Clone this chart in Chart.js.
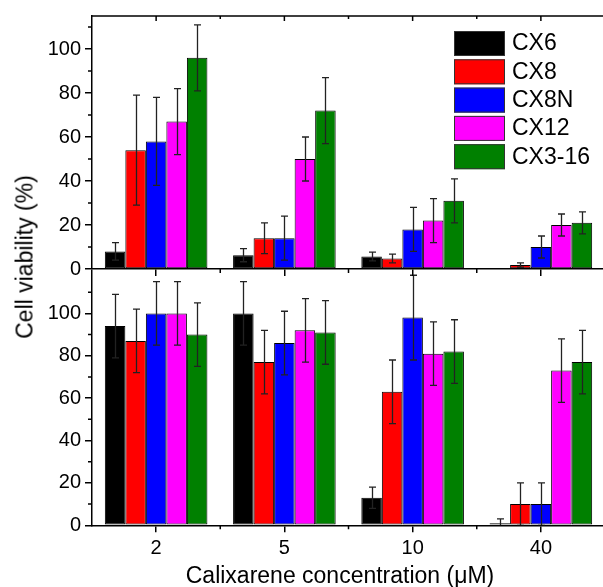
<!DOCTYPE html>
<html>
<head>
<meta charset="utf-8">
<script src="https://cdn.jsdelivr.net/npm/chart.js@4.4.1/dist/chart.umd.min.js"></script>
<style>
  html, body { margin: 0; padding: 0; background: #fff; }
  #wrap { position: relative; width: 603px; height: 587px; overflow: hidden; }
  #wrap canvas { position: absolute; left: 0; }
  #cvTop { top: 0; z-index: 2; }
  #cvBot { top: 255px; z-index: 1; }
  .atitle {
    position: absolute; z-index: 3;
    font: 23px "Liberation Sans", Arial, sans-serif; color: #000; white-space: nowrap;
  }
  #ytitle { left: 25px; top: 257px; transform: translate(-50%, -50%) rotate(-90deg); }
  #xtitle { left: 340px; top: 575px; transform: translate(-50%, -50%); }
</style>
</head>
<body>
<div id="wrap">
  <canvas id="cvBot" width="620" height="345"></canvas>
  <canvas id="cvTop" width="620" height="300"></canvas>
  <div id="ytitle" class="atitle">Cell viability (%)</div>
  <div id="xtitle" class="atitle">Calixarene concentration (&mu;M)</div>
</div>
<script>
// x categories (calixarene concentration, uM) and series
var categories = ['2', '5', '10', '40'];
var seriesNames = ['CX6', 'CX8', 'CX8N', 'CX12', 'CX3-16'];

// upper panel: mean values and error (+/-)
var cx6Top = [8, 6.3, 5.7, 0];
var cx8Top = [54, 14, 4.8, 1.8];
var cx8nTop = [58, 14, 18, 10];
var cx12Top = [67, 50, 22, 20];
var cx316Top = [96, 72, 31, 21];
var cx6TopErr = [4, 3, 2, 0];
var cx8TopErr = [25, 7, 2, 1];
var cx8nTopErr = [20, 10, 10, 5];
var cx12TopErr = [15, 10, 10, 5];
var cx316TopErr = [15, 15, 10, 5];

// lower panel
var cx6Bot = [94, 100, 13, 1];
var cx8Bot = [87, 77, 63, 10];
var cx8nBot = [100, 86, 98, 10];
var cx12Bot = [100, 92, 81, 73];
var cx316Bot = [90, 91, 82, 77];
var cx6BotErr = [15, 15, 5, 2];
var cx8BotErr = [15, 15, 15, 10];
var cx8nBotErr = [15, 15, 20, 10];
var cx12BotErr = [15, 15, 15, 15];
var cx316BotErr = [15, 15, 15, 15];

// y tick labels
var yTicksTop = [0, 20, 40, 60, 80, 100];
var yTicksBot = [0, 20, 40, 60, 80, 100];

var FONT = '"Liberation Sans", Arial, sans-serif';
var COLORS = ['#000000', '#ff0000', '#0000ff', '#ff00ff', '#008000'];
Chart.defaults.font.family = FONT;
Chart.defaults.color = '#000';

function makeSets(values, errors) {
  return values.map(function(v, i) {
    return {
      label: seriesNames[i],
      data: v,
      errors: errors[i],
      backgroundColor: COLORS[i],
      borderColor: '#000',
      borderWidth: 1,
      borderSkipped: false,
      barPercentage: 1,
      categoryPercentage: 0.8
    };
  });
}

/* error bars, drawn through the value scale */
var errorBars = {
  id: 'errorBars',
  afterDatasetsDraw: function(chart) {
    var ctx = chart.ctx, y = chart.scales.y, a = chart.chartArea;
    ctx.save();
    ctx.beginPath();
    ctx.rect(a.left, a.top - 1, a.width, a.height + 1);
    ctx.clip();
    ctx.strokeStyle = '#222';
    ctx.lineWidth = 1.3;
    chart.data.datasets.forEach(function(ds, i) {
      chart.getDatasetMeta(i).data.forEach(function(bar, j) {
        var e = ds.errors[j];
        if (!e) return;
        var v = ds.data[j];
        var yt = y.getPixelForValue(v + e), yb = y.getPixelForValue(v - e);
        var x = Math.round(bar.x) + 0.5;
        ctx.beginPath();
        ctx.moveTo(x, yt); ctx.lineTo(x, yb);
        ctx.moveTo(x - 3.5, yt); ctx.lineTo(x + 3.5, yt);
        ctx.moveTo(x - 3.5, yb); ctx.lineTo(x + 3.5, yb);
        ctx.stroke();
      });
    });
    ctx.restore();
  }
};

/* minor ticks + top frame */
var axisExtras = {
  id: 'axisExtras',
  afterDraw: function(chart, args, opts) {
    var ctx = chart.ctx, x = chart.scales.x, y = chart.scales.y, a = chart.chartArea;
    ctx.save();
    ctx.strokeStyle = '#000';
    ctx.lineWidth = 1.5;
    ctx.beginPath();
    for (var v = 10; v < y.max; v += 20) {
      var py = y.getPixelForValue(v);
      ctx.moveTo(a.left - 4, py); ctx.lineTo(a.left, py);
    }
    for (var i = 0; i < categories.length - 1; i++) {
      var px = (x.getPixelForValue(i) + x.getPixelForValue(i + 1)) / 2;
      ctx.moveTo(px, a.bottom); ctx.lineTo(px, a.bottom + 4);
      if (opts.top) { ctx.moveTo(px, a.top); ctx.lineTo(px, a.top + 3); }
    }
    if (opts.top) {
      ctx.moveTo(a.left, a.top); ctx.lineTo(a.right, a.top);
      categories.forEach(function(c, k) {
        var tx = x.getPixelForValue(k);
        ctx.moveTo(tx, a.top); ctx.lineTo(tx, a.top + 5);
      });
    }
    ctx.stroke();
    ctx.restore();
  }
};

/* boxed legend inside the upper panel */
var boxLegend = {
  id: 'boxLegend',
  afterDraw: function(chart) {
    var ctx = chart.ctx, a = chart.chartArea;
    var x0 = a.left + 362, y0 = a.top + 15;
    ctx.save();
    ctx.font = '23px ' + FONT;
    ctx.textBaseline = 'middle';
    ctx.lineWidth = 1;
    chart.data.datasets.forEach(function(ds, i) {
      var yy = y0 + i * 28.3;
      ctx.fillStyle = ds.backgroundColor;
      ctx.fillRect(x0, yy, 51, 25);
      ctx.strokeStyle = '#333';
      ctx.strokeRect(x0 + 0.5, yy + 0.5, 50, 24);
      ctx.fillStyle = '#000';
      ctx.fillText(ds.label, x0 + 58, yy + 13);
    });
    ctx.restore();
  }
};

function yAxis(max, tickList) {
  return {
    min: 0, max: max,
    afterBuildTicks: function(s) {
      s.ticks = tickList.map(function(t) { return { value: t }; });
    },
    ticks: { color: '#000', font: { size: 20 }, padding: 4 },
    grid: { drawOnChartArea: false, tickLength: 7, color: '#000', lineWidth: 1.5 },
    border: { color: '#000', width: 1.5 },
    afterFit: function(s) { s.width = 92; }
  };
}

new Chart(document.getElementById('cvTop'), {
  type: 'bar',
  data: { labels: categories, datasets: makeSets(
    [cx6Top, cx8Top, cx8nTop, cx12Top, cx316Top],
    [cx6TopErr, cx8TopErr, cx8nTopErr, cx12TopErr, cx316TopErr]) },
  options: {
    responsive: false, animation: false,
    layout: { padding: { left: 0, right: 15, top: 14, bottom: 24 } },
    plugins: { legend: { display: false }, tooltip: { enabled: false }, axisExtras: { top: true } },
    scales: {
      x: {
        grid: { drawOnChartArea: false, offset: false, tickLength: 7, color: '#000', lineWidth: 1.5 },
        border: { color: '#000', width: 1.5 },
        ticks: { display: false },
        afterFit: function(s) { s.height = 7; }
      },
      y: yAxis(115, yTicksTop)
    }
  },
  plugins: [errorBars, axisExtras, boxLegend]
});

new Chart(document.getElementById('cvBot'), {
  type: 'bar',
  data: { labels: categories, datasets: makeSets(
    [cx6Bot, cx8Bot, cx8nBot, cx12Bot, cx316Bot],
    [cx6BotErr, cx8BotErr, cx8nBotErr, cx12BotErr, cx316BotErr]) },
  options: {
    responsive: false, animation: false,
    layout: { padding: { left: 0, right: 15, top: 14, bottom: 0 } },
    plugins: { legend: { display: false }, tooltip: { enabled: false }, axisExtras: { top: false } },
    scales: {
      x: {
        grid: { drawOnChartArea: false, offset: false, tickLength: 7, color: '#000', lineWidth: 1.5 },
        border: { color: '#000', width: 1.5 },
        ticks: { color: '#000', font: { size: 20 }, padding: 4, maxRotation: 0 },
        afterFit: function(s) { s.height = 74.7; }
      },
      y: yAxis(120, yTicksBot)
    }
  },
  plugins: [errorBars, axisExtras]
});
</script>
</body>
</html>
